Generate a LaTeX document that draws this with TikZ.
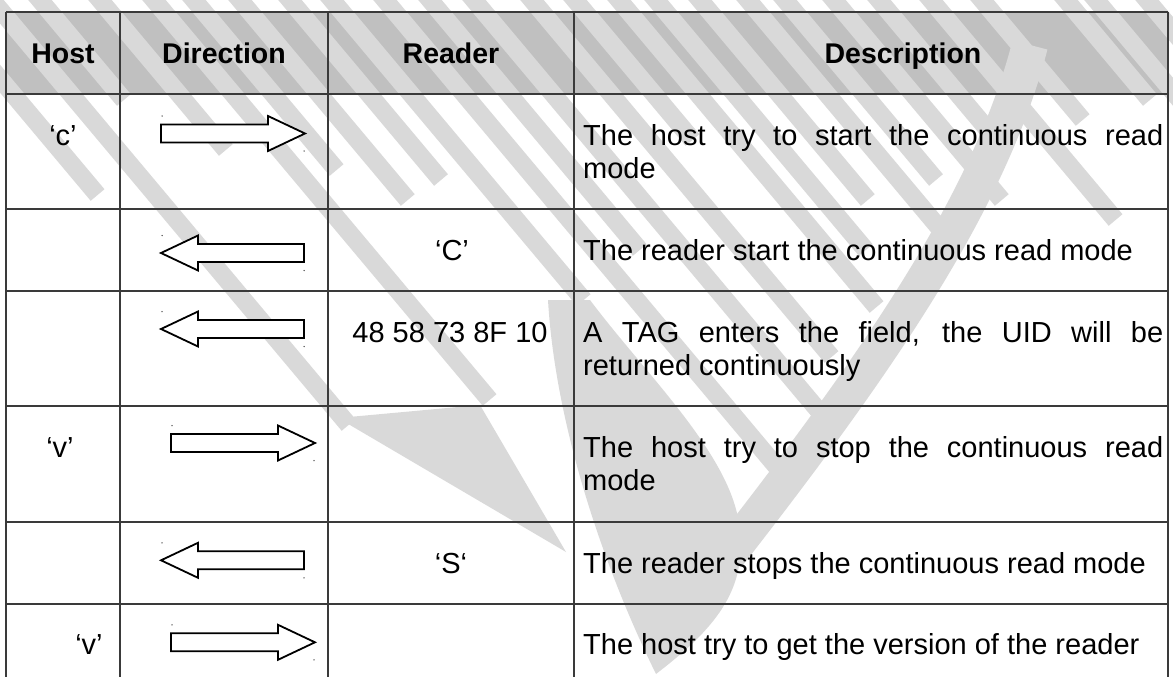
\documentclass[tikz,border=0pt]{standalone}
\usepackage{fontspec}
\setmainfont{Liberation Sans}
\usepackage{tikz}
\usetikzlibrary{positioning, calc}

\definecolor{headgray}{HTML}{C0C0C0}
\definecolor{markgray}{HTML}{D9D9D9}
\definecolor{gridgray}{HTML}{3A3A3A}

\begin{document}
\begin{tikzpicture}[
        x=1pt, y=-1pt,
        head/.style={font=\fontsize{28.5}{33}\selectfont\bfseries, inner sep=0pt, anchor=base},
        cell/.style={font=\fontsize{29}{33}\selectfont, inner sep=0pt, anchor=base},
        desc/.style={font=\fontsize{29}{33}\selectfont, inner sep=0pt, anchor=base west},
        grid/.style={draw=gridgray, line width=1.6pt},
        stripe/.style={draw=markgray, line width=18pt},
        dirarrow/.style={draw=black, fill=white, line width=1.8pt, miter limit=10},
        dot/.style={fill=black!70, circle, inner sep=0pt, minimum size=1.5pt}
    ]
    \useasboundingbox (0,0) rectangle (1173,677);
    \clip (0,0) rectangle (1173,677);

    % --- HEADER FILL ---
    \fill[headgray] (6,12) rectangle (1168,94);

    % --- WATERMARK ---
    % diagonal stripes: top crossing / lower end
    \foreach \xo/\ye in {-66/195, -8/425, 40/100, 100/150, 154/400, 194/170,
            240/200, 290/180, 332/300, 385/480, 430/250, 474/410, 532/357,
            575/140, 619/307, 656/250, 700/200, 748/230, 785/180, 834/200,
            879/150, 931/220, 982/120, 1066/100, 1096/260, 1147/300}
        \draw[stripe] ({\xo-12.6},-15) -- ++({0.839*(\ye+15)},{\ye+15});
    % tail of the long stripes
    \fill[markgray] (338,418) -- (480,405) -- (566,552) -- cycle;
    % blade and curved arm
    \fill[markgray] (548,300) .. controls (555,420) and (600,560) .. (656,674)
        .. controls (700,640) and (745,600) .. (740,540)
        .. controls (742,465) and (650,380) .. (590,300) -- cycle;
    \draw[markgray, line width=36pt] (1030,45) .. controls (990,200) and (880,360) .. (728,555);

    % --- GRID ---
    \foreach \yr in {12,94,209,291,406,522,604}
        \draw[grid] (6,\yr) -- (1168,\yr);
    \foreach \xc in {6,120,328,574,1168}
        \draw[grid] (\xc,12) -- (\xc,680);

    % --- HEADER TEXT ---
    \node[head] (host) at (63,63.5) {Host};
    \node[head] (direction) at (224,63.5) {Direction};
    \node[head] (reader) at (451,63.5) {Reader};
    \node[head] (description) at (903,63.5) {Description};

    % --- ARROWS ---
    % host to reader
    \foreach \xa/\yc in {161/133.5, 171/443, 171/642.3}{
        \draw[dirarrow] (\xa,\yc-9) -- (\xa+107,\yc-9) -- (\xa+107,\yc-17.5)
            -- (\xa+144,\yc) -- (\xa+107,\yc+17.5) -- (\xa+107,\yc+9) -- (\xa,\yc+9) -- cycle;
        \node[dot] at (\xa+1,\yc-17.5) {};
        \node[dot] at (\xa+143,\yc+17.5) {};
    }
    % reader to host
    \foreach \yc in {253, 329, 560.3}{
        \draw[dirarrow] (161,\yc) -- (198,\yc-17.5) -- (198,\yc-9) -- (304,\yc-9)
            -- (304,\yc+9) -- (198,\yc+9) -- (198,\yc+17.5) -- cycle;
        \node[dot] at (162,\yc-17.5) {};
        \node[dot] at (304,\yc+17.5) {};
    }

    % --- ROW TEXT ---
    \node[cell] (h1) at (63,145.5) {‘c’};
    \node[desc] (d1a) at (583,145.5) {\makebox[580pt][s]{The host try to start the continuous read}};
    \node[desc] (d1b) at (583,178.5) {mode};

    \node[cell] (r2) at (452,260.5) {‘C’};
    \node[desc] (d2) at (583,260.5) {The reader start the continuous read mode};

    \node[cell] (r3) at (450,342.5) {48 58 73 8F 10};
    \node[desc] (d3a) at (583,342.5) {\makebox[580pt][s]{A TAG enters the field, the UID will be}};
    \node[desc] (d3b) at (583,375.5) {returned continuously};

    \node[cell] (h4) at (60,457.5) {‘v’};
    \node[desc] (d4a) at (583,457.5) {\makebox[580pt][s]{The host try to stop the continuous read}};
    \node[desc] (d4b) at (583,490.5) {mode};

    \node[cell] (r5) at (451,573.5) {‘S‘};
    \node[desc] (d5) at (583,573.5) {The reader stops the continuous read mode};

    \node[cell] (h6) at (89,654.5) {‘v’};
    \node[desc] (d6) at (583,654.5) {The host try to get the version of the reader};
\end{tikzpicture}
\end{document}
